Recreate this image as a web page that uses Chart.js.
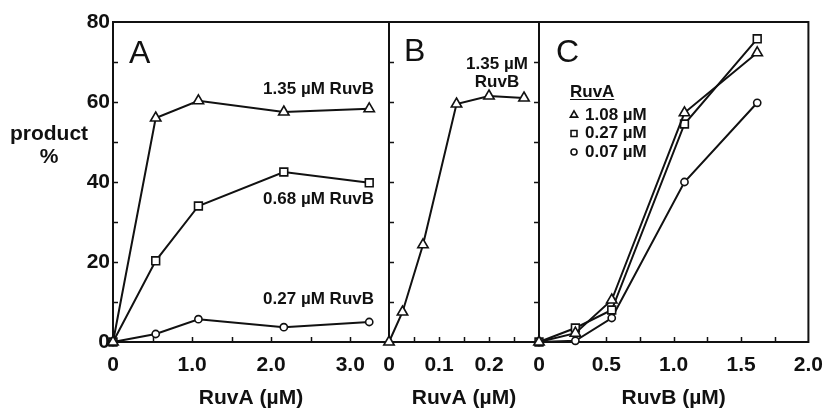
<!DOCTYPE html>
<html><head><meta charset="utf-8">
<script src="https://cdn.jsdelivr.net/npm/chart.js@4/dist/chart.umd.min.js"></script>
<style>
html,body{margin:0;padding:0;background:#fff;}
#wrap{position:relative;width:834px;height:409px;overflow:hidden;}
canvas{position:absolute;left:0;top:0;}
</style></head><body>
<div id="wrap">
<canvas id="cA" width="834" height="409"></canvas>
<canvas id="cB" width="834" height="409"></canvas>
<canvas id="cC" width="834" height="409"></canvas>
</div>
<script>
// ---------- DATA ----------
// Panel A: product % vs RuvA (µM) at three RuvB concentrations
const ruvA_A = [0, 0.54, 1.08, 2.16, 3.24];
const productA_RuvB135 = [0, 56, 60.3, 57.5, 58.3];
const productA_RuvB068 = [0, 20.3, 34, 42.5, 39.8];
const productA_RuvB027 = [0, 2, 5.7, 3.7, 5];
// Panel B: product % vs RuvA (µM) at 1.35 µM RuvB
const ruvA_B = [0, 0.027, 0.068, 0.135, 0.2, 0.27];
const productB_RuvB135 = [0, 7.5, 24.3, 59.5, 61.5, 61];
// Panel C: product % vs RuvB (µM) at three RuvA concentrations
const ruvB_C = [0, 0.27, 0.54, 1.08, 1.62];
const productC_RuvA108 = [0, 2.2, 10.5, 57.3, 72.3];
const productC_RuvA027 = [0, 3.5, 8, 54.5, 75.8];
const productC_RuvA007 = [0, 0.3, 6, 40, 59.8];
// Tick values and labels
const yTicks = [0, 20, 40, 60, 80];
const yMinorTicks = [10, 20, 30, 40, 50, 60, 70];
const xTicksA = [0, 1, 2, 3];
const xTickLabelsA = ['0', '1.0', '2.0', '3.0'];
const xMinorA = [0.5, 1, 1.5, 2, 2.5, 3];
const xTicksB = [0, 0.1, 0.2];
const xTickLabelsB = ['0', '0.1', '0.2'];
const xMinorB = [0.05, 0.1, 0.15, 0.2, 0.25];
const xTicksC = [0, 0.5, 1, 1.5, 2];
const xTickLabelsC = ['0', '0.5', '1.0', '1.5', '2.0'];
const xMinorC = [0.25, 0.5, 0.75, 1, 1.25, 1.5, 1.75];

// ---------- STYLE ----------
const INK = '#111';
const FAMILY = "'Liberation Sans', Arial, Helvetica, sans-serif";
Chart.defaults.font.family = FAMILY;
Chart.defaults.color = INK;

const MARK = {
  triangle: {pointStyle: 'triangle', r: 6},
  rect: {pointStyle: 'rect', r: 5.5},
  circle: {pointStyle: 'circle', r: 3.6}
};

function ds(label, xs, ys, style) {
  return {
    label: label,
    data: xs.map((x, i) => ({x: x, y: ys[i]})),
    borderColor: INK, borderWidth: 2, tension: 0, fill: false,
    pointStyle: MARK[style].pointStyle, pointRadius: MARK[style].r,
    pointBackgroundColor: '#fff', pointBorderColor: INK, pointBorderWidth: 1.6,
    clip: false
  };
}

const framePlugin = {
  id: 'frame',
  beforeDatasetsDraw(chart, args, o) {
    const {ctx, chartArea: a, scales} = chart;
    ctx.save();
    ctx.strokeStyle = INK; ctx.lineWidth = 2;
    ctx.strokeRect(a.left, a.top, a.right - a.left, a.bottom - a.top);
    ctx.lineWidth = 1.5;
    ctx.beginPath();
    (o.xMinor || []).forEach(v => {
      const px = Math.round(scales.x.getPixelForValue(v)) + 0.5;
      ctx.moveTo(px, a.bottom); ctx.lineTo(px, a.bottom - 5);
    });
    (yMinorTicks).forEach(v => {
      const py = Math.round(scales.y.getPixelForValue(v)) + 0.5;
      ctx.moveTo(a.left, py); ctx.lineTo(a.left + 5 * o.yDir, py);
    });
    ctx.stroke();
    ctx.restore();
  },
  afterDraw(chart, args, o) {
    const ctx = chart.ctx;
    ctx.save();
    ctx.fillStyle = INK;
    (o.notes || []).forEach(n => {
      ctx.font = n.font;
      ctx.textAlign = n.align || 'left';
      ctx.textBaseline = n.baseline || 'middle';
      ctx.fillText(n.text, n.x, n.y);
    });
    if (o.legend) {
      const L = o.legend;
      ctx.font = 'bold 17px ' + FAMILY;
      ctx.textAlign = 'left'; ctx.textBaseline = 'middle';
      ctx.fillText(L.title, L.x, L.y);
      const w = ctx.measureText(L.title).width;
      ctx.strokeStyle = INK; ctx.lineWidth = 1.2;
      ctx.beginPath(); ctx.moveTo(L.x, L.y + 7.5); ctx.lineTo(L.x + w, L.y + 7.5); ctx.stroke();
      chart.data.datasets.forEach((d, i) => {
        const y = L.y + L.rowStart + i * L.rowGap;
        ctx.fillStyle = '#fff'; ctx.strokeStyle = INK; ctx.lineWidth = 1.6;
        Chart.helpers.drawPoint(ctx, {pointStyle: d.pointStyle, radius: d.pointStyle === 'circle' ? 3 : 4.2, rotation: 0, borderWidth: 1.6}, L.x + 4, y);
        ctx.fillStyle = INK;
        ctx.fillText(L.labels[i], L.x + 15, y);
      });
    }
    ctx.restore();
  }
};

function xScale(min, max, ticks, labels, title) {
  return {
    type: 'linear', min: min, max: max,
    afterBuildTicks: s => { s.ticks = ticks.map(v => ({value: v})); },
    afterFit: s => { s.height = 67; },
    ticks: {
      autoSkip: false, maxRotation: 0, padding: 11, color: INK,
      font: {size: 21, weight: 'bold'},
      callback: v => { const i = ticks.indexOf(v); return i >= 0 ? labels[i] : ''; }
    },
    grid: {display: false, drawTicks: false},
    border: {display: false},
    title: {display: true, text: title, color: INK, font: {size: 21, weight: 'bold'}, padding: {top: 0, bottom: -2}}
  };
}

function yScale(show) {
  return {
    type: 'linear', min: 0, max: 80, display: show,
    afterBuildTicks: s => { s.ticks = yTicks.map(v => ({value: v})); },
    afterFit: s => { s.width = show ? 113 : 0; },
    ticks: {padding: 3, color: INK, font: {size: 21, weight: 'bold'}},
    grid: {display: false, drawTicks: false},
    border: {display: false}
  };
}

function make(id, datasets, padL, padR, x, y, frame) {
  return new Chart(document.getElementById(id), {
    type: 'line',
    data: {datasets: datasets},
    options: {
      responsive: false, animation: false, events: [],
      layout: {padding: {left: padL, right: padR, top: 22, bottom: 0}},
      plugins: {legend: {display: false}, tooltip: {enabled: false}, frame: frame},
      scales: {x: x, y: y}
    },
    plugins: [framePlugin]
  });
}

const noteFont = 'bold 17px ' + FAMILY;
const letterFont = '32px ' + FAMILY;

make('cA', [
  ds('1.35 µM RuvB', ruvA_A, productA_RuvB135, 'triangle'),
  ds('0.68 µM RuvB', ruvA_A, productA_RuvB068, 'rect'),
  ds('0.27 µM RuvB', ruvA_A, productA_RuvB027, 'circle')
], 0, 834 - 389, xScale(0, 3.49, xTicksA, xTickLabelsA, 'RuvA (µM)'), yScale(true), {
  xMinor: xMinorA, yDir: 1,
  notes: [
    {text: 'A', x: 129, y: 63, font: letterFont, baseline: 'alphabetic'},
    {text: '1.35 µM RuvB', x: 374, y: 89, align: 'right', font: noteFont},
    {text: '0.68 µM RuvB', x: 374, y: 199, align: 'right', font: noteFont},
    {text: '0.27 µM RuvB', x: 374, y: 299, align: 'right', font: noteFont},
    {text: 'product', x: 49, y: 134, align: 'center', font: 'bold 21px ' + FAMILY},
    {text: '%', x: 49, y: 157, align: 'center', font: 'bold 21px ' + FAMILY}
  ]
});

make('cB', [
  ds('1.35 µM RuvB', ruvA_B, productB_RuvB135, 'triangle')
], 389, 834 - 539, xScale(0, 0.3, xTicksB, xTickLabelsB, 'RuvA (µM)'), yScale(false), {
  xMinor: xMinorB, yDir: 1,
  notes: [
    {text: 'B', x: 404, y: 61, font: letterFont, baseline: 'alphabetic'},
    {text: '1.35 µM', x: 497, y: 64, align: 'center', font: noteFont},
    {text: 'RuvB', x: 497, y: 82, align: 'center', font: noteFont}
  ]
});

make('cC', [
  ds('1.08 µM', ruvB_C, productC_RuvA108, 'triangle'),
  ds('0.27 µM', ruvB_C, productC_RuvA027, 'rect'),
  ds('0.07 µM', ruvB_C, productC_RuvA007, 'circle')
], 539, 834 - 815, xScale(0, 2, xTicksC, xTickLabelsC, 'RuvB (µM)'), yScale(false), {
  xMinor: xMinorC, yDir: -1,
  notes: [
    {text: 'C', x: 556, y: 62, font: letterFont, baseline: 'alphabetic'}
  ],
  legend: {title: 'RuvA', x: 570, y: 92, rowStart: 23, rowGap: 18.5, labels: ['1.08 µM', '0.27 µM', '0.07 µM']}
});
</script>
</body></html>
